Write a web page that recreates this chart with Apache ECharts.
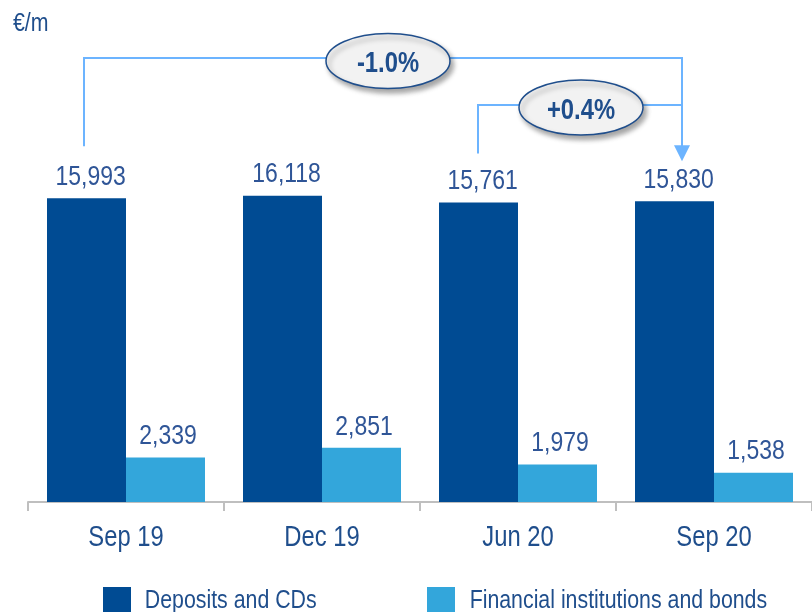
<!DOCTYPE html>
<html>
<head>
<meta charset="utf-8">
<script src="https://cdn.jsdelivr.net/npm/echarts@6/dist/echarts.min.js"></script>
<style>
html,body{margin:0;padding:0;background:#fff;}
#c{width:812px;height:612px;}
</style>
</head>
<body>
<div id="c"></div>
<script>
const categories = ['Sep 19', 'Dec 19', 'Jun 20', 'Sep 20'];
const deposits = [15993, 16118, 15761, 15830];
const financial = [2339, 2851, 1979, 1538];
const seriesNames = ['Deposits and CDs', 'Financial institutions and bonds'];
const unitLabel = '€/m';
const changes = ['-1.0%', '+0.4%'];

const FONT = '"Liberation Sans", Arial, sans-serif';
const NARROW = 0.82;
const DARK = '#004B93';
const LIGHT = '#33A6DB';
const TXT = '#1F4E8C';
const VAL = '#2F5597';
const LINE = '#6CB4FF';

const chart = echarts.init(document.getElementById('c'), null, {renderer: 'canvas'});

const fmt = v => v.value.toLocaleString('en-US');

chart.setOption({
  animation: false,
  backgroundColor: '#ffffff',
  title: {
    text: unitLabel, left: 8, top: 6,
    textStyle: {fontFamily: FONT, fontSize: 26, fontWeight: 'normal', color: TXT}
  },
  grid: {left: 28, right: 0, top: 122, bottom: 110},
  legend: [
    {
      data: [seriesNames[0]], left: 98, top: 582, icon: 'rect',
      itemWidth: 28, itemHeight: 28,
      textStyle: {fontFamily: FONT, fontSize: 26, color: TXT, padding: [0, 0, 0, 18]}
    },
    {
      data: [seriesNames[1]], left: 422, top: 582, icon: 'rect',
      itemWidth: 28, itemHeight: 28,
      textStyle: {fontFamily: FONT, fontSize: 26, color: TXT, padding: [0, 0, 0, 19]}
    }
  ],
  xAxis: {
    type: 'category', data: categories,
    axisLine: {lineStyle: {color: '#BFBFBF', width: 2}},
    axisTick: {show: true, length: 9, lineStyle: {color: '#BFBFBF', width: 2}},
    axisLabel: {fontFamily: FONT, fontSize: 29, color: TXT, margin: 21}
  },
  yAxis: {type: 'value', min: 0, max: 20000, show: false, splitLine: {show: false}},
  series: [
    {
      name: seriesNames[0], type: 'bar', data: deposits, barWidth: 79, barGap: 0,
      itemStyle: {color: DARK},
      label: {show: true, position: 'top', distance: 7, offset: [5, 0], formatter: fmt,
        fontFamily: FONT, fontSize: 28, color: VAL}
    },
    {
      name: seriesNames[1], type: 'bar', data: financial, barWidth: 79, barGap: 0,
      itemStyle: {color: LIGHT},
      label: {show: true, position: 'top', distance: 7, offset: [3, 0], formatter: fmt,
        fontFamily: FONT, fontSize: 28, color: VAL}
    }
  ]
});

function px(cat) { return chart.convertToPixel({xAxisIndex: 0}, cat); }
function py(v) { return chart.convertToPixel({yAxisIndex: 0}, v); }

const x1 = px(categories[0]) - 42;
const x2 = px(categories[2]) - 40;
const xa = px(categories[3]) - 32;
const y1b = py(deposits[0]) - 52;
const y2b = py(deposits[2]) - 49;
const arrowTip = py(deposits[3]) - 40;
const yTop1 = 58, yTop2 = 105;

const lineStyle = {stroke: LINE, lineWidth: 2, fill: null};
const ellStyle = {fill: '#F2F2F2', stroke: TXT, lineWidth: 1.5,
  shadowBlur: 5, shadowOffsetX: 3, shadowOffsetY: 4, shadowColor: 'rgba(0,0,0,0.35)'};

function bubble(cx, cy, txt) {
  return [
    {type: 'ellipse', shape: {cx: cx, cy: cy, rx: 62, ry: 27.5}, style: ellStyle, z: 10},
    {type: 'text', x: cx, y: cy + 3, z: 11, scaleX: NARROW,
      style: {text: txt, fill: TXT, font: 'bold 29px ' + FONT, align: 'center', verticalAlign: 'middle'}}
  ];
}

const c1 = (x1 + xa) / 2 + 5;
const c2 = (x2 + xa) / 2 + 1;

chart.setOption({
  graphic: [
    {type: 'polyline', shape: {points: [[x1, y1b], [x1, yTop1], [xa, yTop1], [xa, arrowTip - 15]]}, style: lineStyle, z: 5},
    {type: 'polyline', shape: {points: [[x2, y2b], [x2, yTop2], [xa, yTop2]]}, style: lineStyle, z: 5},
    {type: 'polygon', shape: {points: [[xa - 8, arrowTip - 16], [xa + 8, arrowTip - 16], [xa, arrowTip]]}, style: {fill: LINE}, z: 5}
  ].concat(bubble(c1, 61, changes[0])).concat(bubble(c2, 107.5, changes[1]))
});

// Condense all text horizontally (Arial Narrow look)
(function condense() {
  const zr = chart.getZr();
  function visit(el) {
    if (el.type === 'text') { el.scaleX = NARROW; el.markRedraw(); }
    const tc = el.getTextContent && el.getTextContent();
    if (tc) { tc.scaleX = NARROW; tc.markRedraw(); el.markRedraw(); }
  }
  zr.storage.getRoots().forEach(function (root) {
    visit(root);
    if (root.traverse) root.traverse(visit);
  });
  zr.refreshImmediately();
})();
</script>
</body>
</html>
